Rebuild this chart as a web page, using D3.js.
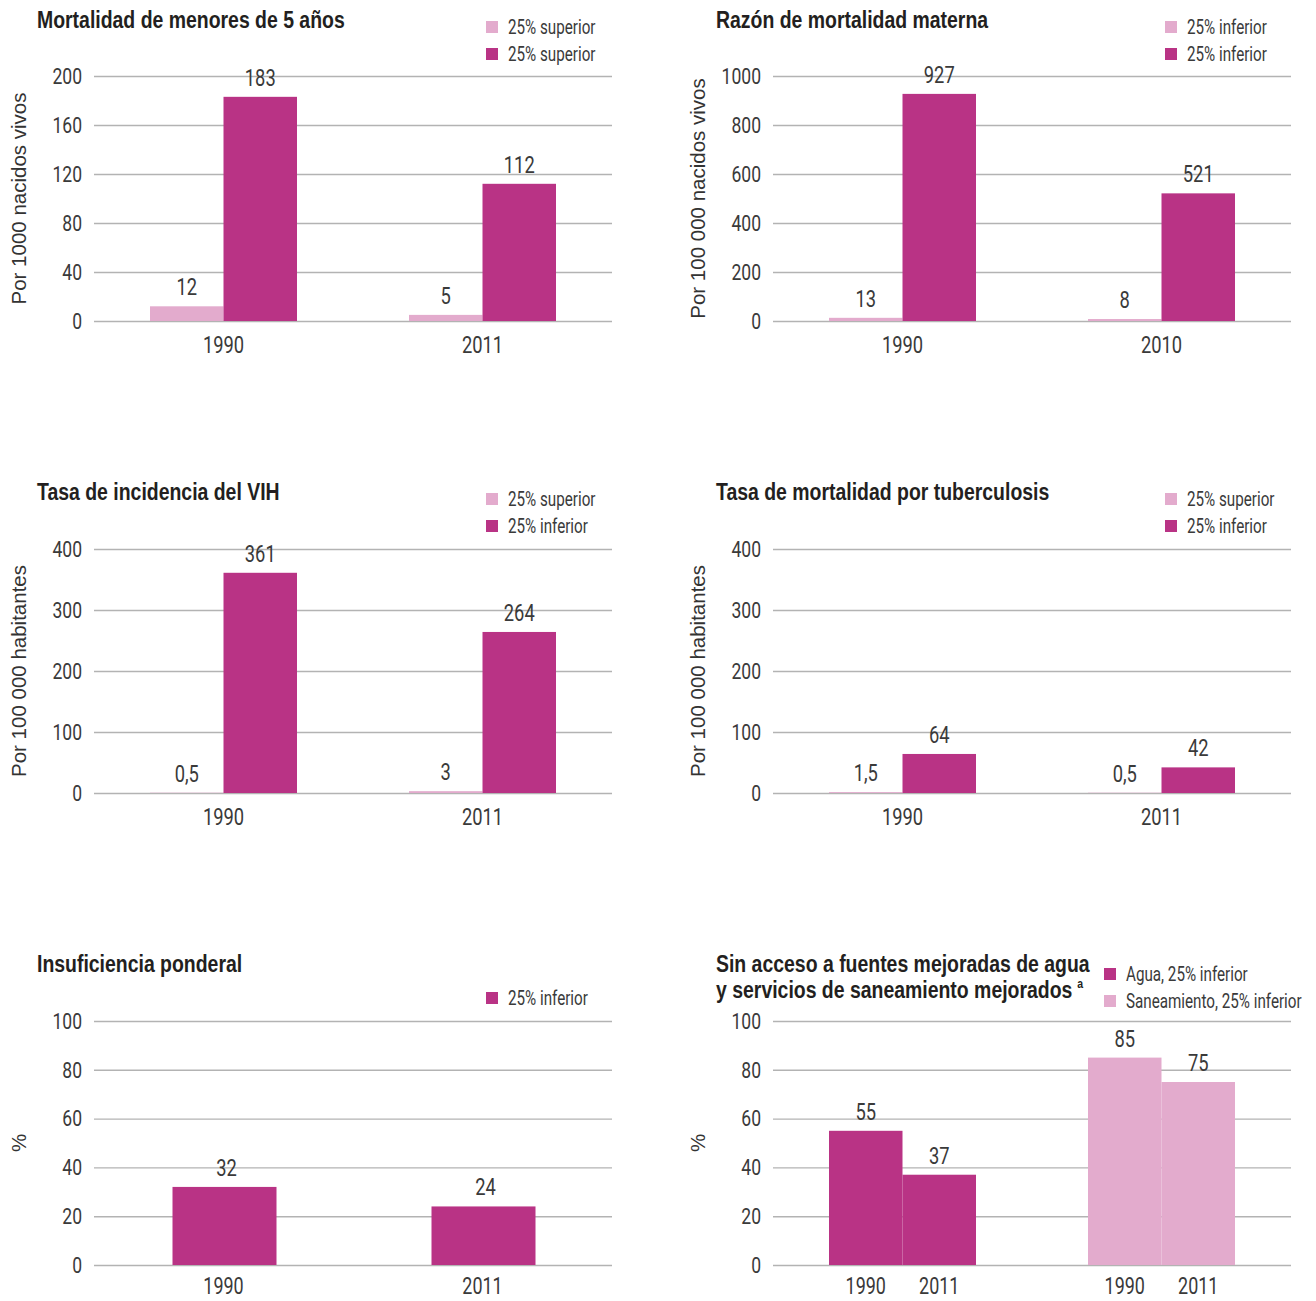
<!DOCTYPE html>
<html>
<head>
<meta charset="utf-8">
<script src="https://cdn.jsdelivr.net/npm/d3@7"></script>
<style>
  html, body { margin: 0; padding: 0; background: #fff; }
  svg { display: block; }
  .title { font-family: "Liberation Sans", Arial, sans-serif; font-weight: bold; font-size: 24px; fill: #231f20; }
  .cond { font-family: "Roboto", "Liberation Sans", sans-serif; font-weight: 400; fill: #3a3a3a; }
  .ytitle { font-family: "Liberation Sans", Arial, sans-serif; font-size: 20.5px; fill: #333; }
</style>
</head>
<body>
<svg id="chart" width="1316" height="1301"></svg>
<script>
// ---------- DATA ----------
const COLOR_DARK = "#b93385";
const COLOR_LIGHT = "#e3abcd";

// Panel 1: Mortalidad de menores de 5 años
const u5Years = ["1990", "2011"];
const u5Light = [12, 5];
const u5Dark = [183, 112];
const u5Ticks = [0, 40, 80, 120, 160, 200];
const u5Legend = ["25% superior", "25% superior"];

// Panel 2: Razón de mortalidad materna
const mmYears = ["1990", "2010"];
const mmLight = [13, 8];
const mmDark = [927, 521];
const mmTicks = [0, 200, 400, 600, 800, 1000];
const mmLegend = ["25% inferior", "25% inferior"];

// Panel 3: Tasa de incidencia del VIH
const hivYears = ["1990", "2011"];
const hivLight = [0.5, 3];
const hivDark = [361, 264];
const hivTicks = [0, 100, 200, 300, 400];
const hivLegend = ["25% superior", "25% inferior"];

// Panel 4: Tasa de mortalidad por tuberculosis
const tbYears = ["1990", "2011"];
const tbLight = [1.5, 0.5];
const tbDark = [64, 42];
const tbTicks = [0, 100, 200, 300, 400];
const tbLegend = ["25% superior", "25% inferior"];

// Panel 5: Insuficiencia ponderal
const upYears = ["1990", "2011"];
const upValues = [32, 24];
const upTicks = [0, 20, 40, 60, 80, 100];
const upLegend = ["25% inferior"];

// Panel 6: Agua y saneamiento
const wsGroups = ["Agua", "Saneamiento"];
const wsYears = ["1990", "2011"];
const wsWater = [55, 37];
const wsSanitation = [85, 75];
const wsTicks = [0, 20, 40, 60, 80, 100];
const wsLegend = ["Agua, 25% inferior", "Saneamiento, 25% inferior"];

// ---------- HELPERS ----------
const svg = d3.select("#chart");
const fmt = v => String(v).replace(".", ",");
const SX = 0.78;     // horizontal condensing for numeric/legend text
const TSX = 0.81;    // horizontal condensing for titles

function ctext(g, x, y, str, size, anchor, cls, sx) {
  const w = g.append("g").attr("transform", `translate(${x},${y}) scale(${sx || SX},1)`);
  return w.append("text").attr("class", cls || "cond").attr("font-size", size)
    .attr("text-anchor", anchor || "start").text(str);
}

function basePanel(o) {
  const g = svg.append("g");
  const x0 = o.ox + 94, x1 = o.ox + 612;
  const y = d3.scaleLinear().domain([0, d3.max(o.ticks)]).range([o.bottom, o.top]);
  const x = d3.scaleBand().domain(o.cats).range([x0, x1]).paddingInner(0).paddingOuter(0);

  const axis = d3.axisLeft(y).tickValues(o.ticks).tickSize(-(x1 - x0)).tickFormat(d => d).tickPadding(12);
  const ga = g.append("g").attr("transform", `translate(${x0},0)`).call(axis);
  ga.select(".domain").remove();
  ga.selectAll(".tick line").attr("stroke", "#b3b3b3").attr("stroke-width", 1.4);
  ga.selectAll(".tick text").attr("class", "cond").attr("font-size", 22.5).attr("fill", "#3a3a3a")
    .attr("x", -12 / SX).attr("transform", `scale(${SX},1)`);

  o.title.forEach((t, i) => {
    ctext(g, o.ox + 37, o.titleY + i * 26, t, 24, "start", "title", TSX).attr("class", "title title" + i);
  });
  g.append("text").attr("class", "ytitle")
    .attr("transform", `translate(${o.ox + 26},${(o.top + o.bottom) / 2}) rotate(-90)`)
    .attr("text-anchor", "middle").text(o.ytitle);
  return { g, x, y, ga };
}

function legend(g, lx, ly, items) {
  items.forEach((it, i) => {
    g.append("rect").attr("x", lx).attr("y", ly + i * 27 - 6).attr("width", 12).attr("height", 12).attr("fill", it.color);
    ctext(g, lx + 22, ly + i * 27, it.label, 19.5, "start").attr("dy", "0.35em");
  });
}

function barLabel(g, cx, yv, text) {
  ctext(g, cx, yv - 11, text, 23.5, "middle");
}

function xLabel(g, cx, y0, text, off) {
  ctext(g, cx, y0 + (off || 24), text, off ? 23 : 23.5, "middle").attr("dy", "0.35em");
}

function finish(g, ga) {
  ga.selectAll(".tick").filter(d => d === 0).raise();
}

function pairPanel(o, years, light, dark, legendLabels) {
  const { g, x, y, ga } = basePanel({ ...o, cats: years });
  const bw = 73.5;
  const bars = g.append("g");
  years.forEach((yr, i) => {
    const c = x(yr) + x.bandwidth() / 2;
    bars.append("rect").attr("x", c - bw).attr("width", bw).attr("y", y(light[i])).attr("height", y(0) - y(light[i])).attr("fill", COLOR_LIGHT);
    bars.append("rect").attr("x", c).attr("width", bw).attr("y", y(dark[i])).attr("height", y(0) - y(dark[i])).attr("fill", COLOR_DARK);
    barLabel(g, c - bw / 2, y(light[i]), fmt(light[i]));
    barLabel(g, c + bw / 2, y(dark[i]), fmt(dark[i]));
    xLabel(g, c, y(0), yr);
  });
  legend(g, o.ox + 486, o.legendY, [
    { color: COLOR_LIGHT, label: legendLabels[0] },
    { color: COLOR_DARK, label: legendLabels[1] }
  ]);
  finish(g, ga);
}

// ---------- PANELS ----------
const L = 0, R = 679;

pairPanel({ ox: L, top: 76, bottom: 321, title: ["Mortalidad de menores de 5 años"], titleY: 28,
  ytitle: "Por 1000 nacidos vivos", ticks: u5Ticks, legendY: 27 }, u5Years, u5Light, u5Dark, u5Legend);

pairPanel({ ox: R, top: 76, bottom: 321, title: ["Razón de mortalidad materna"], titleY: 28,
  ytitle: "Por 100 000 nacidos vivos", ticks: mmTicks, legendY: 27 }, mmYears, mmLight, mmDark, mmLegend);

pairPanel({ ox: L, top: 549, bottom: 793, title: ["Tasa de incidencia del VIH"], titleY: 500,
  ytitle: "Por 100 000 habitantes", ticks: hivTicks, legendY: 499 }, hivYears, hivLight, hivDark, hivLegend);

pairPanel({ ox: R, top: 549, bottom: 793, title: ["Tasa de mortalidad por tuberculosis"], titleY: 500,
  ytitle: "Por 100 000 habitantes", ticks: tbTicks, legendY: 499 }, tbYears, tbLight, tbDark, tbLegend);

// Panel 5
(function () {
  const o = { ox: L, top: 1021, bottom: 1265, title: ["Insuficiencia ponderal"], titleY: 972, ytitle: "%", ticks: upTicks, cats: upYears };
  const { g, x, y, ga } = basePanel(o);
  const bw = 104;
  upYears.forEach((yr, i) => {
    const c = x(yr) + x.bandwidth() / 2 + 1;
    g.append("rect").attr("x", c - bw / 2).attr("width", bw).attr("y", y(upValues[i])).attr("height", y(0) - y(upValues[i])).attr("fill", COLOR_DARK);
    barLabel(g, c + 2, y(upValues[i]), fmt(upValues[i]));
    xLabel(g, c - 1, y(0), yr, 21);
  });
  legend(g, o.ox + 486, 998, [{ color: COLOR_DARK, label: upLegend[0] }]);
  finish(g, ga);
})();

// Panel 6
(function () {
  const o = { ox: R, top: 1021, bottom: 1265, title: ["Sin acceso a fuentes mejoradas de agua", "y servicios de saneamiento mejorados"], titleY: 972, ytitle: "%", ticks: wsTicks, cats: wsGroups };
  const { g, x, y, ga } = basePanel(o);
  g.select("text.title1").append("tspan").attr("font-size", 13).attr("dy", -10).attr("dx", 6).text("a");
  const bw = 73.5;
  const series = [wsWater, wsSanitation];
  const colors = [COLOR_DARK, COLOR_LIGHT];
  wsGroups.forEach((grp, gi) => {
    const c = x(grp) + x.bandwidth() / 2;
    wsYears.forEach((yr, yi) => {
      const bx = c - bw + yi * bw;
      const v = series[gi][yi];
      g.append("rect").attr("x", bx).attr("width", bw).attr("y", y(v)).attr("height", y(0) - y(v)).attr("fill", colors[gi]);
      barLabel(g, bx + bw / 2, y(v), fmt(v));
      xLabel(g, bx + bw / 2, y(0), yr, 21);
    });
  });
  legend(g, 1104, 974, [
    { color: COLOR_DARK, label: wsLegend[0] },
    { color: COLOR_LIGHT, label: wsLegend[1] }
  ]);
  finish(g, ga);
})();
</script>
</body>
</html>
